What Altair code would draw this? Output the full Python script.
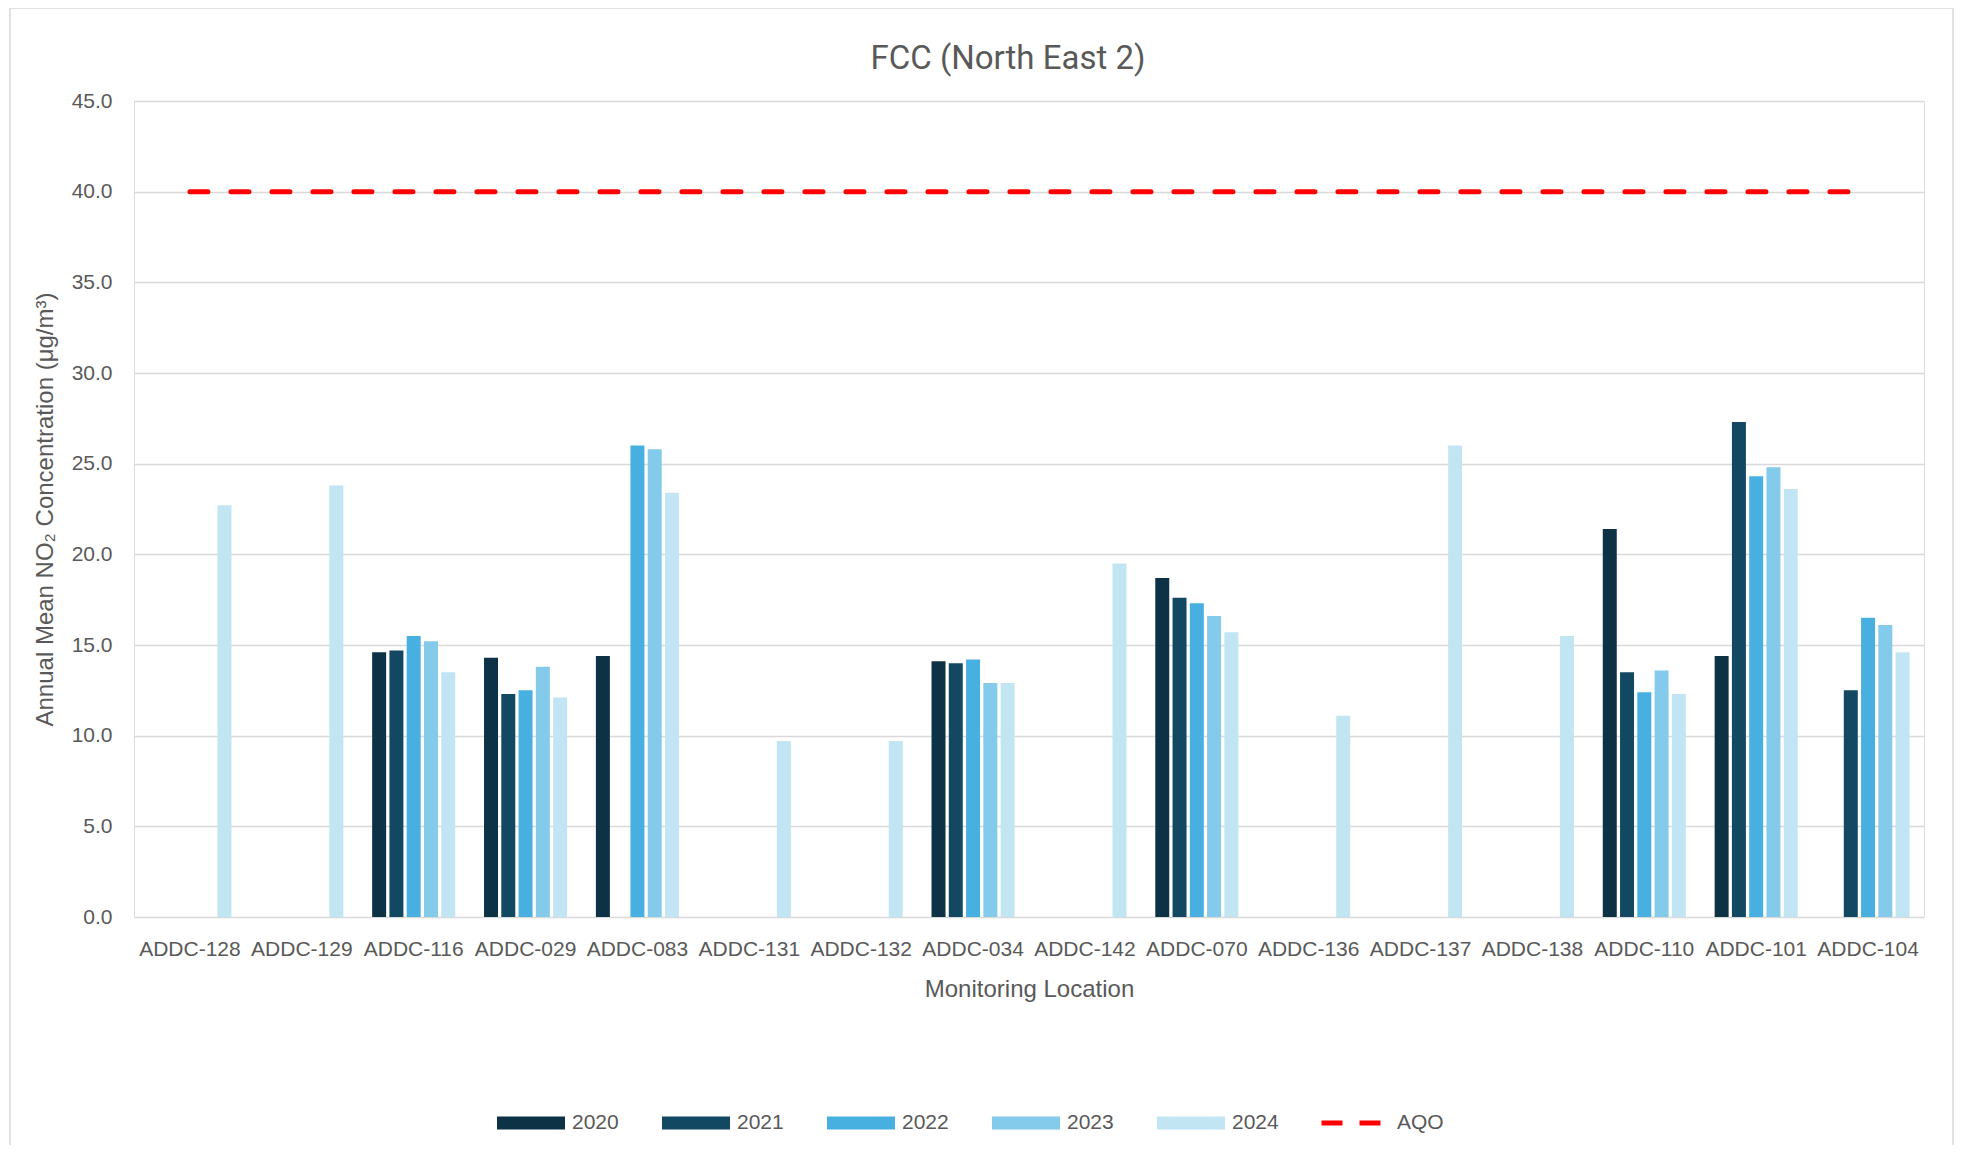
import altair as alt
import pandas as pd

locations = ["ADDC-128", "ADDC-129", "ADDC-116", "ADDC-029", "ADDC-083", "ADDC-131",
             "ADDC-132", "ADDC-034", "ADDC-142", "ADDC-070", "ADDC-136", "ADDC-137",
             "ADDC-138", "ADDC-110", "ADDC-101", "ADDC-104"]
years = ["2020", "2021", "2022", "2023", "2024"]
v2020 = [None, None, 14.6, 14.3, 14.4, None, None, 14.1, None, 18.7, None, None, None, 21.4, 14.4, None]
v2021 = [None, None, 14.7, 12.3, None, None, None, 14.0, None, 17.6, None, None, None, 13.5, 27.3, 12.5]
v2022 = [None, None, 15.5, 12.5, 26.0, None, None, 14.2, None, 17.3, None, None, None, 12.4, 24.3, 16.5]
v2023 = [None, None, 15.2, 13.8, 25.8, None, None, 12.9, None, 16.6, None, None, None, 13.6, 24.8, 16.1]
v2024 = [22.7, 23.8, 13.5, 12.1, 23.4, 9.7, 9.7, 12.9, 19.5, 15.7, 11.1, 26.0, 15.5, 12.3, 23.6, 14.6]
aqo = [40.0] * len(locations)

year_colors = ["#0d3245", "#134862", "#47b0e0", "#83caeb", "#c2e5f4"]
series = {"2020": v2020, "2021": v2021, "2022": v2022, "2023": v2023, "2024": v2024}

rows = []
for y in years:
    for loc, v in zip(locations, series[y]):
        if v is not None:
            rows.append({"location": loc, "year": y, "value": v})
bars_df = pd.DataFrame(rows)
aqo_df = pd.DataFrame({"location": locations, "value": aqo, "series": ["AQO"] * len(locations)})
frame_df = pd.DataFrame({"k": [0]})

TEXT = "#595959"
GRID = "#d9d9d9"
FONT = "Liberation Sans"

x_enc = alt.X("location:N", sort=locations,
              scale=alt.Scale(paddingInner=0.228, paddingOuter=0.114),
              axis=alt.Axis(title="Monitoring Location", labelAngle=0, labelFontSize=21,
                            labelColor=TEXT, labelFont=FONT, titleFontSize=24,
                            titleFont=FONT, titleColor=TEXT, titleFontWeight="normal",
                            labelPadding=21, titlePadding=18, domain=False, ticks=False,
                            tickSize=0, grid=False))
y_enc = alt.Y("value:Q", scale=alt.Scale(domain=[0, 45], nice=False),
              axis=alt.Axis(title="Annual Mean NO₂ Concentration (μg/m³)",
                            values=[0, 5, 10, 15, 20, 25, 30, 35, 40, 45], format=".1f",
                            labelFontSize=21, labelColor=TEXT, labelFont=FONT,
                            titleFontSize=24, titleFont=FONT, titleColor=TEXT,
                            titleFontWeight="normal", labelPadding=22, titlePadding=14,
                            domain=False, ticks=False, tickSize=0, grid=True,
                            gridColor=GRID, gridWidth=1.3))

bars = alt.Chart(bars_df).mark_bar().encode(
    x=x_enc,
    y=y_enc,
    xOffset=alt.XOffset("year:N", sort=years,
                        scale=alt.Scale(domain=years, paddingInner=0.19, paddingOuter=0.095)),
    fill=alt.Fill("year:N", sort=years,
                  scale=alt.Scale(domain=years, range=year_colors),
                  legend=alt.Legend(title=None, orient="none", direction="horizontal",
                                    columns=5, legendX=363, legendY=988, padding=0,
                                    symbolType="M-1,-0.19H1V0.19H-1Z", symbolSize=4624,
                                    symbolStrokeWidth=0, labelFontSize=21, labelFont=FONT,
                                    labelColor=TEXT, labelOffset=7, columnPadding=43,
                                    symbolOpacity=1)),
)

line = alt.Chart(aqo_df).mark_line(strokeWidth=5, strokeDash=[18, 23], strokeCap="round").encode(
    x=alt.X("location:N", sort=locations),
    y=alt.Y("value:Q"),
    stroke=alt.Stroke("series:N", scale=alt.Scale(domain=["AQO"], range=["#ff0000"]),
                      legend=alt.Legend(title=None, orient="none", legendX=1185, legendY=990,
                                        padding=0, symbolType="stroke", symbolSize=3481,
                                        symbolStrokeWidth=5, symbolDash=[21, 17],
                                        labelFontSize=21, labelFont=FONT, labelColor=TEXT,
                                        labelOffset=14)),
)

frame = alt.Chart(frame_df).mark_rect(fillOpacity=0, stroke=GRID, strokeWidth=1.5).encode(
    x=alt.value(-124), x2=alt.value(1819), y=alt.value(-93), y2=alt.value(1300)
)

chart = alt.layer(frame, bars, line).properties(
    width=1790, height=816,
    title=alt.Title("FCC (North East 2)", fontSize=33, font="Roboto", color=TEXT,
                    fontWeight="normal", anchor="middle", offset=24, dx=-21, dy=93),
    autosize=alt.AutoSizeParams(type="none"),
    padding={"left": 126, "top": 93, "right": 30, "bottom": 228},
).configure_view(stroke=None).configure(background="white")

chart.save("out.html", embed_options={"renderer": "svg", "actions": False})
